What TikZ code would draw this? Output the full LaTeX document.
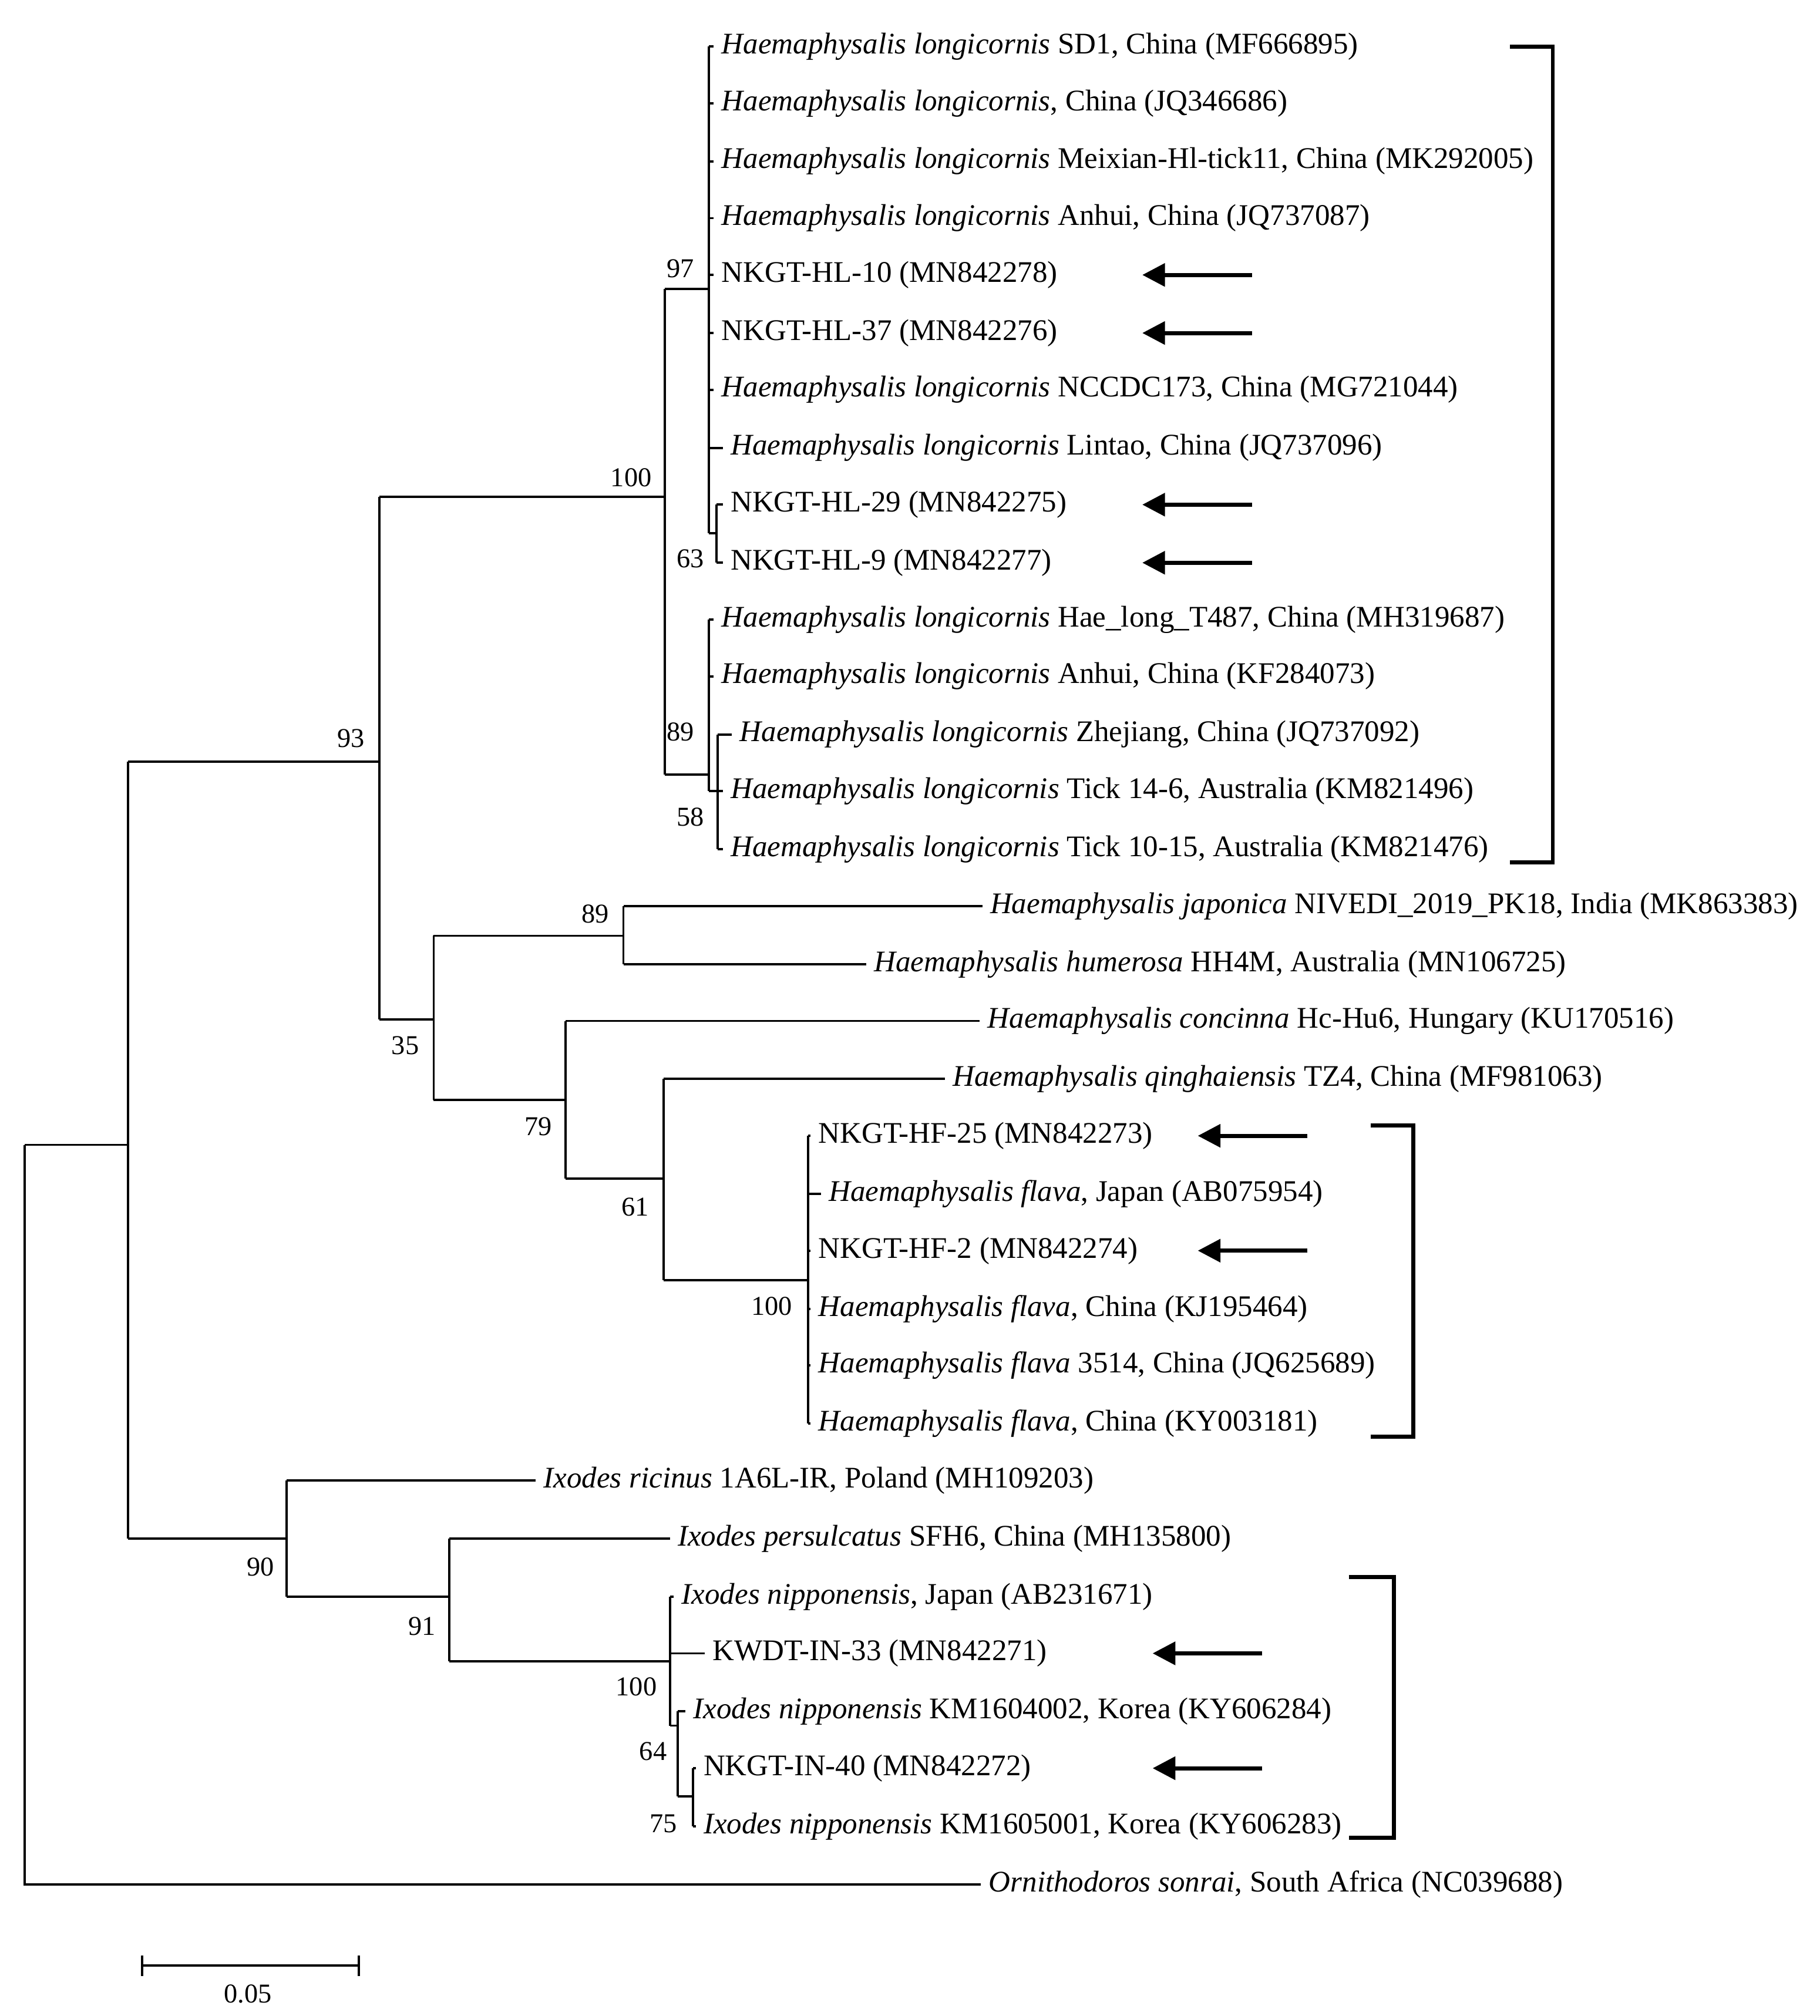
\documentclass[tikz,border=0pt]{standalone}
\usepackage{fontspec}
\setmainfont{Liberation Serif}
\usetikzlibrary{arrows.meta}
\begin{document}
\begin{tikzpicture}[x=0.01cm,y=-0.01cm,line width=0.5pt,
  lf/.style={anchor=west,inner sep=1.5pt,font=\fontsize{6.6}{8}\selectfont},
  bs/.style={font=\fontsize{6}{7}\selectfont,inner sep=0pt},
  ar/.style={-{Triangle[length=5pt,width=5pt]},line width=0.9pt},
  br/.style={line width=0.9pt}]
\useasboundingbox (0,0) rectangle (1410,1562);
\def\H#1{\textit{Haemaphysalis #1}}
% root
\draw (19,887) -- (19,1460) -- (760,1460) node[lf]{\textit{Ornithodoros sonrai}, South Africa (NC039688)};
\draw (19,887) -- (99,887);
\draw (99,590) -- (99,1192);
\draw (99,590) -- (294,590); \node[bs] at (272,572){93};
\draw (99,1192) -- (222,1192); \node[bs] at (202,1214){90};
% node 93
\draw (294,385) -- (294,790);
\draw (294,385) -- (515,385); \node[bs] at (489,370){100};
\draw (294,790) -- (336,790); \node[bs] at (314,810){35};
% node 100
\draw (515,224) -- (515,600);
\draw (515,224) -- (549,224); \node[bs] at (527,208){97};
\draw (515,600) -- (549,600); \node[bs] at (527,567){89};
% node 97
\draw (549,36) -- (549,413);
\draw (549,36) -- (553,36) node[lf]{\H{longicornis} SD1, China (MF666895)};
\draw (549,80) -- (553,80) node[lf]{\H{longicornis}, China (JQ346686)};
\draw (549,125) -- (553,125) node[lf]{\H{longicornis} Meixian-Hl-tick11, China (MK292005)};
\draw (549,169) -- (553,169) node[lf]{\H{longicornis} Anhui, China (JQ737087)};
\draw (549,213) -- (553,213) node[lf]{NKGT-HL-10 (MN842278)};
\draw (549,258) -- (553,258) node[lf]{NKGT-HL-37 (MN842276)};
\draw (549,302) -- (553,302) node[lf]{\H{longicornis} NCCDC173, China (MG721044)};
\draw (549,347) -- (560,347) node[lf]{\H{longicornis} Lintao, China (JQ737096)};
\draw (549,413) -- (555,413); \node[bs] at (535,433){63};
\draw (555,391) -- (555,436);
\draw (555,391) -- (560,391) node[lf]{NKGT-HL-29 (MN842275)};
\draw (555,436) -- (560,436) node[lf]{NKGT-HL-9 (MN842277)};
% node 89
\draw (549,480) -- (549,613);
\draw (549,480) -- (553,480) node[lf]{\H{longicornis} Hae\_long\_T487, China (MH319687)};
\draw (549,524) -- (553,524) node[lf]{\H{longicornis} Anhui, China (KF284073)};
\draw (549,613) -- (556,613); \node[bs] at (535,633){58};
\draw (556,569) -- (556,658);
\draw (556,569) -- (567,569) node[lf]{\H{longicornis} Zhejiang, China (JQ737092)};
\draw (556,613) -- (560,613) node[lf]{\H{longicornis} Tick 14-6, Australia (KM821496)};
\draw (556,658) -- (560,658) node[lf]{\H{longicornis} Tick 10-15, Australia (KM821476)};
% node 35
\draw (336,725) -- (336,852);
\draw (336,725) -- (483,725); \node[bs] at (461,708){89};
\draw (336,852) -- (438,852); \node[bs] at (417,873){79};
\draw (483,702) -- (483,747);
\draw (483,702) -- (761,702) node[lf]{\H{japonica} NIVEDI\_2019\_PK18, India (MK863383)};
\draw (483,747) -- (671,747) node[lf]{\H{humerosa} HH4M, Australia (MN106725)};
\draw (438,791) -- (438,913);
\draw (438,791) -- (759,791) node[lf]{\H{concinna} Hc-Hu6, Hungary (KU170516)};
\draw (438,913) -- (514,913); \node[bs] at (492,935){61};
\draw (514,836) -- (514,992);
\draw (514,836) -- (732,836) node[lf]{\H{qinghaiensis} TZ4, China (MF981063)};
\draw (514,992) -- (626,992); \node[bs] at (598,1012){100};
\draw (626,880) -- (626,1103);
\draw (626,880) -- (628,880) node[lf]{NKGT-HF-25 (MN842273)};
\draw (626,925) -- (636,925) node[lf]{\H{flava}, Japan (AB075954)};
\draw (626,969) -- (628,969) node[lf]{NKGT-HF-2 (MN842274)};
\draw (626,1014) -- (628,1014) node[lf]{\H{flava}, China (KJ195464)};
\draw (626,1058) -- (628,1058) node[lf]{\H{flava} 3514, China (JQ625689)};
\draw (626,1103) -- (628,1103) node[lf]{\H{flava}, China (KY003181)};
% Ixodes
\draw (222,1147) -- (222,1237);
\draw (222,1147) -- (415,1147) node[lf]{\textit{Ixodes ricinus} 1A6L-IR, Poland (MH109203)};
\draw (222,1237) -- (348,1237); \node[bs] at (327,1260){91};
\draw (348,1192) -- (348,1287);
\draw (348,1192) -- (519,1192) node[lf]{\textit{Ixodes persulcatus} SFH6, China (MH135800)};
\draw (348,1287) -- (519,1287); \node[bs] at (493,1307){100};
\draw (519,1237) -- (519,1337);
\draw (519,1237) -- (522,1237) node[lf]{\textit{Ixodes nipponensis}, Japan (AB231671)};
\draw (519,1281) -- (546,1281) node[lf]{KWDT-IN-33 (MN842271)};
\draw (519,1337) -- (525,1337); \node[bs] at (506,1357){64};
\draw (525,1326) -- (525,1392);
\draw (525,1326) -- (531,1326) node[lf]{\textit{Ixodes nipponensis} KM1604002, Korea (KY606284)};
\draw (525,1392) -- (537,1392); \node[bs] at (514,1413){75};
\draw (537,1370) -- (537,1415);
\draw (537,1370) -- (539,1370) node[lf]{NKGT-IN-40 (MN842272)};
\draw (537,1415) -- (539,1415) node[lf]{\textit{Ixodes nipponensis} KM1605001, Korea (KY606283)};
% scale
\draw (110,1523) -- (278,1523);
\draw (110,1515) -- (110,1531); \draw (278,1515) -- (278,1531);
\node[bs] at (192,1545){0.05};
% brackets
\draw[br] (1170,36) -- (1203,36) -- (1203,668) -- (1170,668);
\draw[br] (1062,872) -- (1095,872) -- (1095,1113) -- (1062,1113);
\draw[br] (1045,1222) -- (1080,1222) -- (1080,1424) -- (1045,1424);
% arrows
\foreach \y in {213,258,391,436} \draw[ar] (970,\y) -- (885,\y);
\foreach \y in {880,969} \draw[ar] (1013,\y) -- (928,\y);
\foreach \y in {1281,1370} \draw[ar] (978,\y) -- (893,\y);
\end{tikzpicture}
\end{document}
